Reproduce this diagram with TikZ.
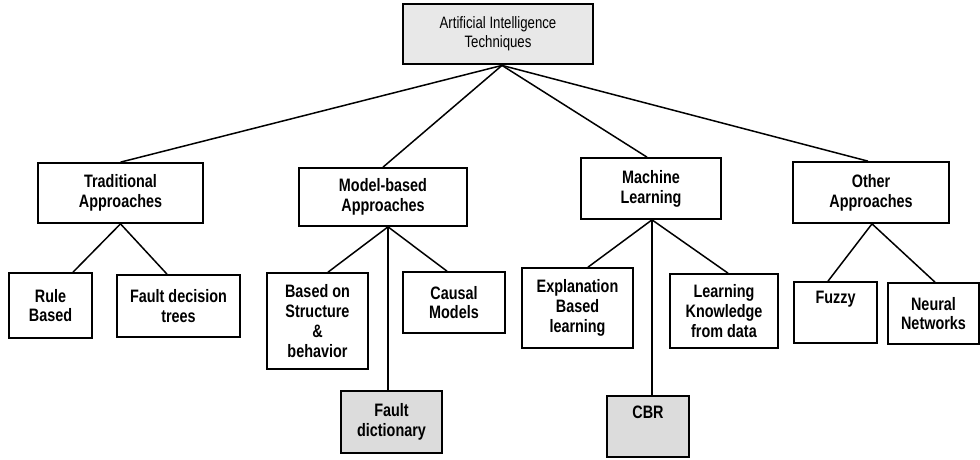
\documentclass[tikz,border=0pt]{standalone}
\usepackage{fontspec}
\setmainfont{Liberation Sans}[FakeStretch=0.8]
\usetikzlibrary{calc}
\definecolor{topgray}{HTML}{E8E8E8}
\definecolor{leafgray}{HTML}{DCDCDC}
\begin{document}
\begin{tikzpicture}[x=1pt,y=-1pt,
  boxfont/.style={font=\fontsize{18}{19.8}\selectfont\bfseries},
  box/.style={draw, line width=1.7pt, inner sep=0pt, align=center, fill=white, boxfont},
  topbox/.style={box, line width=2.8pt, fill=topgray, font=\fontsize{16.5}{19.3}\selectfont},
  leaf/.style={box, fill=leafgray},
  link/.style={line width=1.5pt}]
\useasboundingbox (0,0) rectangle (980,459);

% level 0
\node[topbox, minimum width=190pt, minimum height=60pt] (top) at (498,34) {Artificial Intelligence\\Techniques};

% level 1
\node[box, minimum width=165pt, minimum height=60pt] (trad) at (120.5,193) {Traditional\\Approaches};
\node[box, minimum width=168pt, minimum height=58pt] (model) at (383,197) {Model-based\\Approaches};
\node[box, minimum width=140pt, minimum height=61pt] (ml) at (651,188.5) {Machine\\Learning};
\node[box, minimum width=156pt, minimum height=61pt] (other) at (871,192.5) {Other\\Approaches};

% level 2
\node[box, minimum width=83pt, minimum height=65pt] (rule) at (50.5,305.5) {Rule\\Based};
\node[box, minimum width=123pt, minimum height=62pt] (fdt) at (178.5,306) {Fault decision\\trees};
\node[box, minimum width=101pt, minimum height=96pt] (bos) at (317.5,321) {Based on\\Structure\\\&\\behavior};
\node[box, minimum width=102pt, minimum height=61pt] (causal) at (454,302.5) {Causal\\Models};
\node[leaf, minimum width=101pt, minimum height=62pt] (fd) at (391.5,422) {Fault\\dictionary};
\node[box, minimum width=111pt, minimum height=80pt] (expl) at (577.5,308) {Explanation\\Based\\learning};
\node[box, minimum width=108pt, minimum height=74pt] (lk) at (724,311) {Learning\\Knowledge\\from data};
\node[leaf, minimum width=82pt, minimum height=61pt,
      label={[boxfont, anchor=center, yshift=-17pt]north:CBR}] (cbr) at (648,426.5) {};
\node[box, minimum width=83pt, minimum height=61pt,
      label={[boxfont, anchor=center, yshift=-18pt]north:Fuzzy}] (fuzzy) at (835.5,312.5) {};
\node[box, minimum width=91pt, minimum height=61pt] (neural) at (933.5,313.5) {Neural\\Networks};

% connectors
\coordinate (tapex) at ([xshift=4pt]top.south);
\draw[link] (tapex) -- (trad.north);
\draw[link] (tapex) -- (model.north);
\draw[link] (tapex) -- ([xshift=-4pt]ml.north);
\draw[link] (tapex) -- ([xshift=-3pt]other.north);

\draw[link] (trad.south) -- ([xshift=22.5pt]rule.north);
\draw[link] (trad.south) -- ([xshift=-11.5pt]fdt.north);

\coordinate (mapex) at ([xshift=5pt]model.south);
\draw[link] (mapex) -- ([xshift=10.5pt]bos.north);
\draw[link] (mapex) -- ([xshift=-7pt]causal.north);
\draw[link] (mapex) -- (mapex |- fd.north);

\coordinate (lapex) at ([xshift=1pt]ml.south);
\draw[link] (lapex) -- ([xshift=10.5pt]expl.north);
\draw[link] (lapex) -- ([xshift=4pt]lk.north);
\draw[link] (lapex) -- (lapex |- cbr.north);

\coordinate (oapex) at ([xshift=1pt]other.south);
\draw[link] (oapex) -- ([xshift=-7.5pt]fuzzy.north);
\draw[link] (oapex) -- ([xshift=1.5pt]neural.north);
\end{tikzpicture}
\end{document}
